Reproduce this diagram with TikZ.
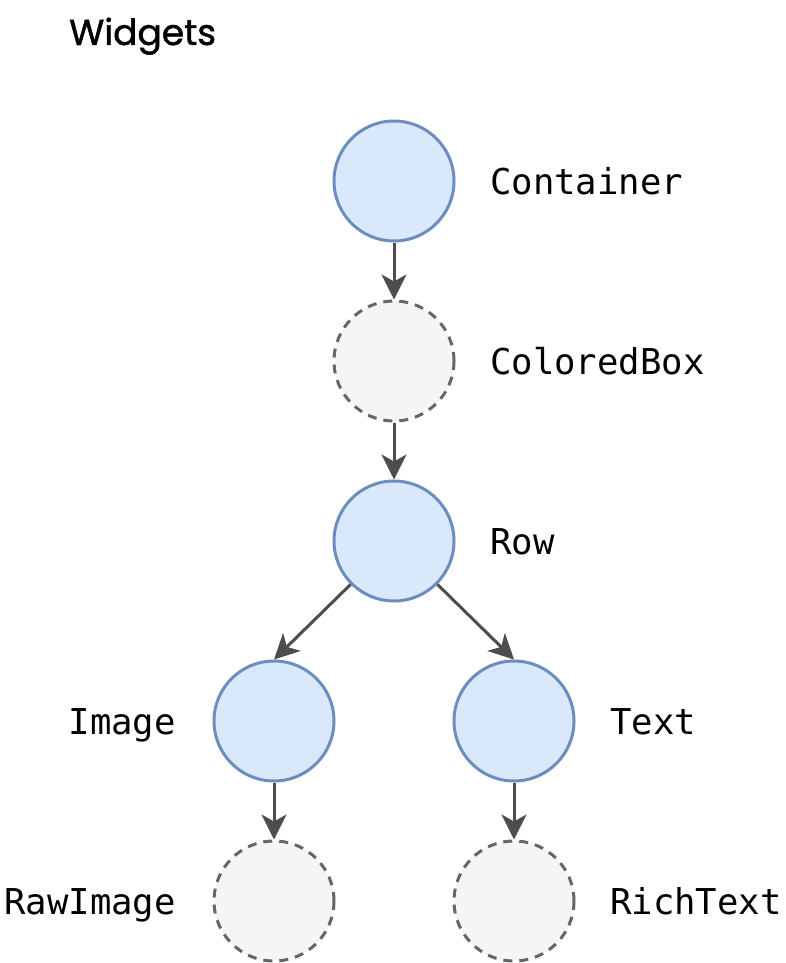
\documentclass[tikz,border=0pt]{standalone}
\usepackage{fontspec}
\setmainfont{Poppins}
\newfontfamily\titlefont{Poppins}[FakeBold=1.3]
\newfontfamily\monofont{DejaVu Sans Mono}
\usetikzlibrary{arrows.meta}
\definecolor{bluefill}{HTML}{DAE8FC}
\definecolor{bluedraw}{HTML}{6C8EBF}
\definecolor{grayfill}{HTML}{F5F5F5}
\definecolor{graydraw}{HTML}{666666}
\definecolor{arrowcol}{HTML}{4D4D4D}
\tikzset{
  widget/.style={circle, minimum size=120pt, inner sep=0pt, line width=3pt, draw=bluedraw, fill=bluefill},
  virtual/.style={circle, minimum size=120pt, inner sep=0pt, line width=3pt, draw=graydraw, fill=grayfill, dash pattern=on 9pt off 7pt},
  conn/.style={draw=arrowcol, line width=3pt, -{Stealth[length=25pt,width=25pt,inset=7pt]}},
  lbl/.style={font=\monofont\fontsize{35.6}{40}\selectfont, inner sep=0pt, text=black},
  ttl/.style={font=\titlefont\fontsize{36}{40}\selectfont, inner sep=0pt, text=black}
}
\begin{document}
\begin{tikzpicture}[x=1pt,y=-1pt]
\useasboundingbox (0,0) rectangle (786,963);
\node[ttl, anchor=base west] (title) at (69,45) {Widgets};
\node[widget] (container) at (394,181) {};
\node[virtual] (coloredbox) at (394,361) {};
\node[widget] (row) at (394,541) {};
\node[widget] (image) at (274,721) {};
\node[widget] (text) at (514,721) {};
\node[virtual] (rawimage) at (274,901) {};
\node[virtual] (richtext) at (514,901) {};
\node[lbl, anchor=base west] (lcontainer) at (490,194) {Container};
\node[lbl, anchor=base west] (lcoloredbox) at (490,374) {ColoredBox};
\node[lbl, anchor=base west] (lrow) at (490,554) {Row};
\node[lbl, anchor=base east] (limage) at (176,734) {Image};
\node[lbl, anchor=base west] (ltext) at (610,734) {Text};
\node[lbl, anchor=base east] (lrawimage) at (176,914) {RawImage};
\node[lbl, anchor=base west] (lrichtext) at (610,914) {RichText};
\draw[conn] (container.south) -- (coloredbox.north);
\draw[conn] (coloredbox.south) -- (row.north);
\draw[conn] (row.225) -- (image.north);
\draw[conn] (row.-45) -- (text.north);
\draw[conn] (image.south) -- (rawimage.north);
\draw[conn] (text.south) -- (richtext.north);
\end{tikzpicture}
\end{document}
